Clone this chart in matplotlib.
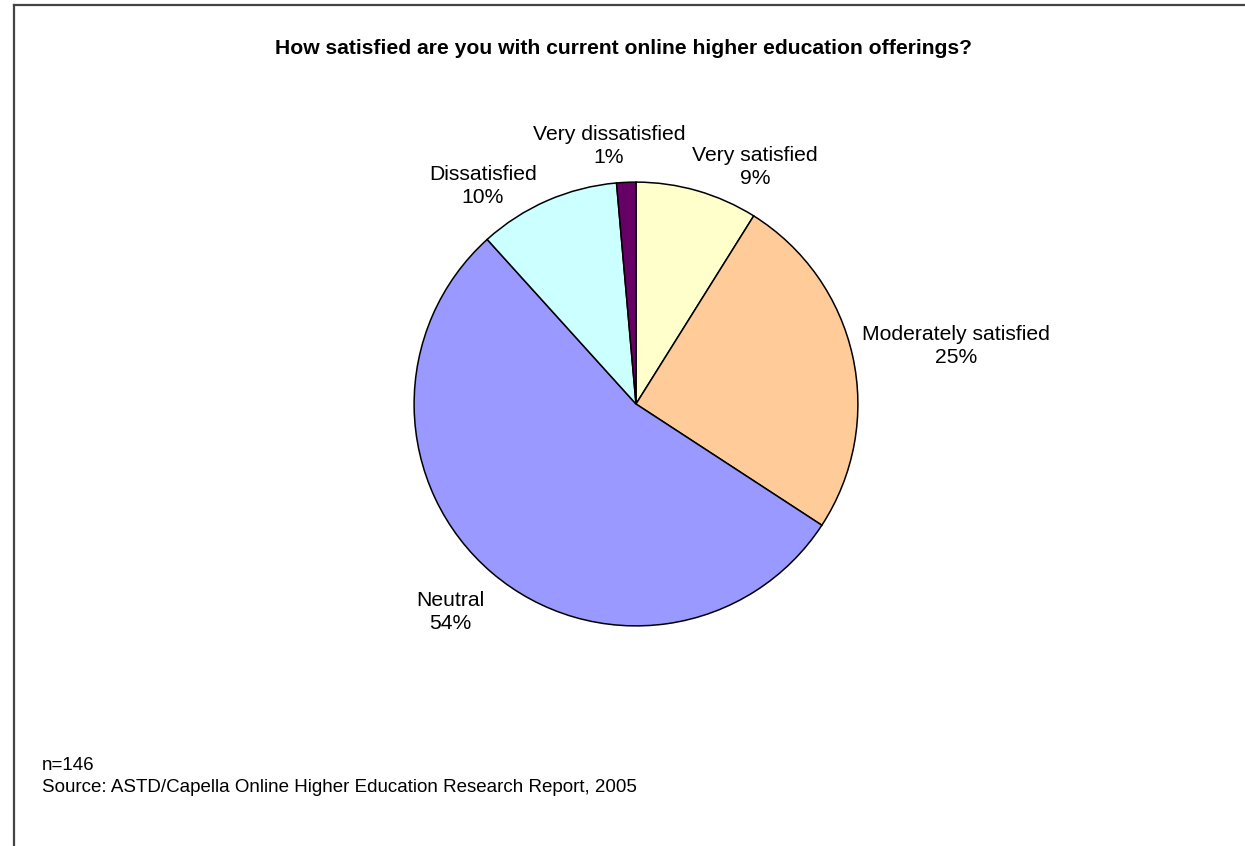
import matplotlib
matplotlib.use("Agg")
import matplotlib.pyplot as plt
from matplotlib.lines import Line2D

plt.rcParams['font.family'] = ['Liberation Sans', 'DejaVu Sans']

categories = ["Very satisfied", "Moderately satisfied", "Neutral", "Dissatisfied", "Very dissatisfied"]
values = [8.9, 25.3, 54.1, 10.3, 1.4]
pct_labels = ["9%", "25%", "54%", "10%", "1%"]
colors = ["#FFFFCC", "#FFCC99", "#9999FF", "#CCFFFF", "#660066"]
title = "How satisfied are you with current online higher education offerings?"
notes = ["n=146", "Source: ASTD/Capella Online Higher Education Research Report, 2005"]

W, H = 1245, 846
fig = plt.figure(figsize=(W / 100, H / 100), dpi=100)
fig.patch.set_facecolor("white")

# frame lines (left and top)
fig.add_artist(Line2D([13.5 / W, 13.5 / W], [0, 1 - 5 / H], transform=fig.transFigure,
                      color="#444444", lw=1.6))
fig.add_artist(Line2D([13.5 / W, 1], [1 - 5 / H, 1 - 5 / H], transform=fig.transFigure,
                      color="#444444", lw=1.6))

cx, cy, r = 636, 404, 223
ax = fig.add_axes([(cx - r) / W, (H - cy - r) / H, 2 * r / W, 2 * r / H])
ax.pie(values, colors=colors, startangle=90, counterclock=False, radius=1,
       wedgeprops=dict(edgecolor="black", linewidth=1.1))
ax.set_xlim(-1.005, 1.005)
ax.set_ylim(-1.005, 1.005)
ax.set_aspect("equal")
ax.axis("off")

def px(x, y):
    return x / W, 1 - y / H

fig.text(*px(623.5, 49), title, ha="center", va="center", fontsize=15.2, fontweight="bold")

label_pos = {
    "Very satisfied": (755, 167),
    "Moderately satisfied": (956, 346),
    "Neutral": (450, 612),
    "Dissatisfied": (483, 186),
    "Very dissatisfied": (609, 146),
}
for cat, pl in zip(categories, pct_labels):
    x, y = label_pos[cat]
    fig.text(*px(x, y), cat + "\n" + pl, ha="center", va="center", fontsize=15.2,
             linespacing=1.22)

fig.text(*px(42, 765), notes[0], ha="left", va="center", fontsize=13.5)
fig.text(*px(42, 787), notes[1], ha="left", va="center", fontsize=13.5)

fig.savefig("out.png", dpi=100, facecolor="white")
